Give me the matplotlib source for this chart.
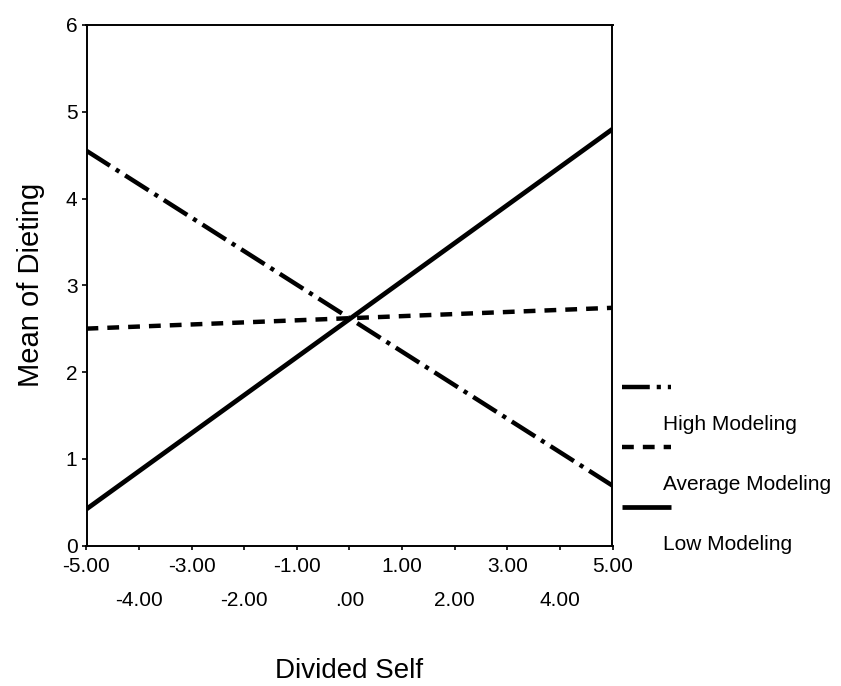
import matplotlib
matplotlib.use('Agg')
import matplotlib.pyplot as plt
from matplotlib.lines import Line2D

plt.rcParams['font.family'] = ['Liberation Sans', 'DejaVu Sans']
plt.rcParams['lines.scale_dashes'] = False

# simple slopes: dieting vs divided self at three levels of modeling
divided_self = [-5.0, 5.0]
high_modeling = [4.55, 0.69]
average_modeling = [2.50, 2.74]
low_modeling = [0.42, 4.80]

series_names = ['High Modeling', 'Average Modeling', 'Low Modeling']

odd_ticks = [-5, -3, -1, 1, 3, 5]
odd_labels = ['-5.00', '-3.00', '-1.00', '1.00', '3.00', '5.00']
even_ticks = [-4, -2, 0, 2, 4]
even_labels = ['-4.00', '-2.00', '.00', '2.00', '4.00']
y_ticks = [0, 1, 2, 3, 4, 5, 6]

W, H = 841, 686
fig = plt.figure(figsize=(W / 100, H / 100), dpi=100)
ax = fig.add_axes([86.5 / W, 1 - 545.5 / H, (612.5 - 86.5) / W, (545.5 - 25) / H])

dashdot = (0, (20, 5, 3, 5))
dashed = (0, (8.5, 6.5))

ax.plot(divided_self, high_modeling, color='black', lw=3.2, linestyle=dashdot,
        solid_capstyle='butt', dash_capstyle='butt')
ax.plot(divided_self, average_modeling, color='black', lw=3.2, linestyle=dashed,
        dash_capstyle='butt')
ax.plot(divided_self, low_modeling, color='black', lw=3.4, linestyle='-',
        solid_capstyle='butt')

ax.set_xlim(-5, 5)
ax.set_ylim(0, 6)

ax.set_xticks(odd_ticks)
ax.set_xticklabels(odd_labels)
ax.set_xticks(even_ticks, minor=True)
ax.set_xticklabels(even_labels, minor=True)
ax.set_yticks(y_ticks)
ax.set_yticklabels([str(v) for v in y_ticks])

ax.tick_params(axis='x', which='major', direction='out', length=3, width=1.2,
               pad=5, labelsize=15)
ax.tick_params(axis='x', which='minor', direction='out', length=3, width=1.2,
               pad=30, labelsize=15)
ax.tick_params(axis='y', direction='out', length=3.5, width=1.2, pad=3,
               labelsize=15)

for s in ax.spines.values():
    s.set_linewidth(1.4)

ax.set_xlabel('Divided Self', fontsize=20, labelpad=34)
ax.set_ylabel('Mean of Dieting', fontsize=21, labelpad=15)

# legend: short line sample with its label set below and to the right
styles = [dict(linestyle=dashdot, lw=3.2), dict(linestyle=dashed, lw=3.2),
          dict(linestyle='-', lw=3.4)]
rows = [387, 447, 507]
for name, st, yy in zip(series_names, styles, rows):
    fig.add_artist(Line2D([622 / W, 671 / W], [1 - yy / H, 1 - yy / H],
                          color='black', transform=fig.transFigure,
                          dash_capstyle='butt', solid_capstyle='butt', **st))
    fig.text(663 / W, 1 - (yy + 37) / H, name, fontsize=15, ha='left', va='center')

fig.savefig('out.png', dpi=100, facecolor='white')
